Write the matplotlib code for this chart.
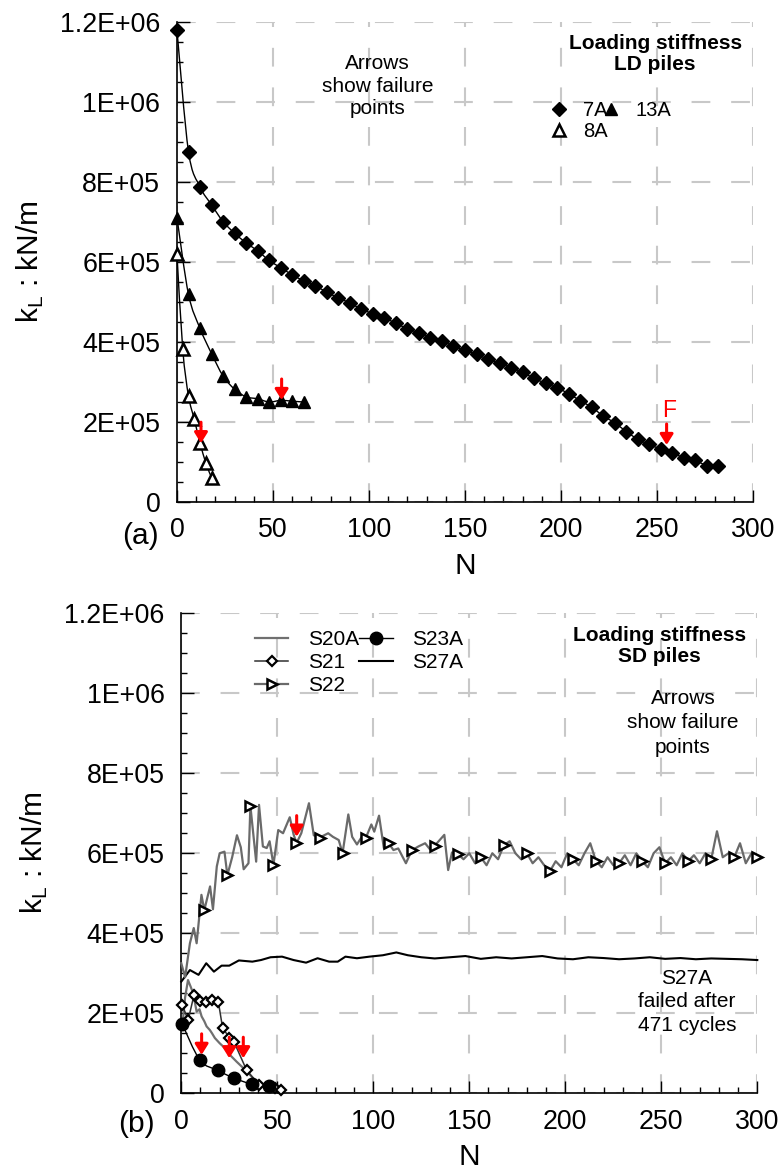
import numpy as np
import matplotlib
matplotlib.use("Agg")
import matplotlib.pyplot as plt
from matplotlib.path import Path
from matplotlib.patches import PathPatch
from matplotlib.lines import Line2D

plt.rcParams['font.family'] = ['Liberation Sans', 'DejaVu Sans']
plt.rcParams['mathtext.fontset'] = 'custom'
plt.rcParams['mathtext.rm'] = 'Liberation Sans'

SCALE = 1e6  # values below are in 1E+06 kN/m

# ---- panel (a): LD piles ----
N_7A = [0, 6, 12, 18, 24, 30, 36, 42, 48, 54, 60, 66, 72, 78, 84, 90, 96, 102,
        108, 114, 120, 126, 132, 138, 144, 150, 156, 162, 168, 174, 180, 186,
        192, 198, 204, 210, 216, 222, 228, 234, 240, 246, 252, 258, 264, 270,
        276, 282]
k_7A = [1.179, 0.876, 0.788, 0.743, 0.701, 0.672, 0.648, 0.628, 0.604, 0.586,
        0.568, 0.553, 0.540, 0.525, 0.510, 0.498, 0.482, 0.471, 0.460, 0.447,
        0.433, 0.423, 0.410, 0.402, 0.390, 0.379, 0.369, 0.357, 0.347, 0.336,
        0.324, 0.309, 0.297, 0.285, 0.271, 0.253, 0.237, 0.215, 0.198, 0.176,
        0.157, 0.144, 0.132, 0.122, 0.111, 0.104, 0.091, 0.090]

N_13A = [0, 6, 12, 18, 24, 30, 36, 42, 48, 54, 60, 66]
k_13A = [0.711, 0.519, 0.434, 0.371, 0.315, 0.282, 0.263, 0.258, 0.250, 0.254,
         0.252, 0.250]

N_8A = [0, 3, 6, 9, 12, 15, 18]
k_8A = [0.619, 0.382, 0.265, 0.207, 0.148, 0.098, 0.061]

# failure arrows (N, k at arrow tip)
arrows_a = [(12.5, 0.147), (54.5, 0.255), (255, 0.1425)]

# ---- panel (b): SD piles ----
N_S20A = [1, 2, 3.5, 5, 6.2, 8, 9.5, 10.6, 12, 13.2, 14.9, 16, 17.5, 20, 22.7,
          25.3, 28.8, 32.3, 35.8, 39.2, 42.7, 46.2]
k_S20A = [0.19, 0.24, 0.283, 0.265, 0.25, 0.204, 0.21, 0.192, 0.18, 0.167,
          0.158, 0.15, 0.138, 0.125, 0.113, 0.096, 0.079, 0.063, 0.046, 0.029,
          0.017, 0.008]

N_S21 = [0.5, 3.6, 6.6, 9.6, 12.7, 15.9, 19.3, 21.5, 25, 27.6, 34, 40.6, 48.8,
         51.9]
k_S21 = [0.221, 0.183, 0.245, 0.230, 0.229, 0.234, 0.229, 0.164, 0.139, 0.127,
         0.058, 0.020, 0.0125, 0.009]

N_S22 = [0, 2, 4.5, 6.5, 8, 10.5, 12, 15, 16.5, 18.5, 20, 22.5, 24, 26.5, 29,
         31, 32.5, 35, 36, 39, 40.5, 42.5, 44.5, 46, 48, 50.5, 53, 56.5, 58.5,
         60, 62.5, 66.5, 69, 72, 76.5, 79, 82, 84, 87, 89, 91.5, 94, 96, 99,
         100.5, 103, 105.5, 108, 110.5, 113, 117, 120, 123.5, 127, 129.5, 132,
         137, 139, 141, 144, 147, 150, 153, 156, 159, 162, 165, 168, 171, 174,
         177, 180, 183, 186, 189, 192, 195, 198, 201, 204, 207, 210, 213, 216,
         219, 222, 225, 228, 231, 234, 237, 240, 243, 246, 249, 252, 255, 258,
         261, 264, 267, 270, 273, 276, 279, 282, 285, 288, 291, 294, 297, 300]
k_S22 = [0.325, 0.29, 0.375, 0.413, 0.375, 0.496, 0.458, 0.517, 0.46, 0.567,
         0.60, 0.604, 0.545, 0.59, 0.645, 0.615, 0.56, 0.575, 0.718, 0.579,
         0.721, 0.617, 0.613, 0.63, 0.571, 0.658, 0.65, 0.69, 0.647, 0.625,
         0.65, 0.725, 0.645, 0.639, 0.65, 0.641, 0.633, 0.60, 0.697, 0.641,
         0.622, 0.641, 0.637, 0.672, 0.654, 0.694, 0.613, 0.625, 0.608, 0.612,
         0.575, 0.607, 0.617, 0.625, 0.61, 0.619, 0.646, 0.558, 0.602, 0.598,
         0.585, 0.60, 0.575, 0.59, 0.57, 0.60, 0.585, 0.62, 0.63, 0.60, 0.585,
         0.60, 0.575, 0.59, 0.57, 0.555, 0.58, 0.565, 0.60, 0.585, 0.57, 0.60,
         0.625, 0.58, 0.565, 0.59, 0.57, 0.575, 0.595, 0.57, 0.60, 0.58, 0.565,
         0.60, 0.615, 0.575, 0.59, 0.57, 0.60, 0.58, 0.595, 0.575, 0.60, 0.585,
         0.655, 0.59, 0.60, 0.59, 0.625, 0.575, 0.60, 0.59]
S22_marker_step = 12

N_S23A = [0.5, 9.7, 19, 27.6, 36.7, 45.7]
k_S23A = [0.173, 0.083, 0.057, 0.0375, 0.023, 0.018]

N_S27A = [0, 4.5, 9, 13, 17, 21, 25, 30, 37, 41.5, 46.5, 52.5, 58.5, 65, 71,
          77, 81.5, 85.5, 91.5, 98, 105, 112, 118, 125, 132, 140, 148, 156,
          164, 172, 180, 188, 196, 204, 212, 220, 228, 236, 244, 252, 260, 268,
          276, 284, 292, 300]
k_S27A = [0.279, 0.308, 0.296, 0.325, 0.304, 0.319, 0.319, 0.332, 0.329, 0.333,
          0.34, 0.3415, 0.333, 0.3265, 0.3375, 0.329, 0.329, 0.3415, 0.3375,
          0.3415, 0.345, 0.352, 0.345, 0.34, 0.337, 0.34, 0.343, 0.336, 0.34,
          0.337, 0.34, 0.343, 0.337, 0.335, 0.34, 0.338, 0.335, 0.337, 0.34,
          0.336, 0.338, 0.335, 0.337, 0.336, 0.335, 0.333]

arrows_b = [(10.6, 0.096), (25, 0.0875), (32.3, 0.0875), (60.1, 0.6415)]

yticks = [0, 2e5, 4e5, 6e5, 8e5, 1e6, 1.2e6]
ytick_labels = ['0', '2E+05', '4E+05', '6E+05', '8E+05', '1E+06', '1.2E+06']
xticks = [0, 50, 100, 150, 200, 250, 300]


def smooth_path(x, y):
    # Excel-like smoothed line (Catmull-Rom as cubic Beziers)
    x = np.asarray(x, float)
    y = np.asarray(y, float)
    n = len(x)
    verts = [(x[0], y[0])]
    codes = [Path.MOVETO]
    for i in range(n - 1):
        i0 = max(i - 1, 0)
        i3 = min(i + 2, n - 1)
        c1 = (x[i] + (x[i + 1] - x[i0]) / 6, y[i] + (y[i + 1] - y[i0]) / 6)
        c2 = (x[i + 1] - (x[i3] - x[i]) / 6, y[i + 1] - (y[i3] - y[i]) / 6)
        verts += [c1, c2, (x[i + 1], y[i + 1])]
        codes += [Path.CURVE4] * 3
    return Path(verts, codes)


def add_smooth(ax, x, y, color='k', lw=1.0):
    p = smooth_path(x, np.asarray(y) * SCALE)
    ax.add_patch(PathPatch(p, fill=False, ec=color, lw=lw, zorder=3,
                           clip_on=False))


def style_axes(ax):
    ax.set_xlim(0, 300)
    ax.set_ylim(0, 1.2e6)
    ax.set_xticks(xticks)
    ax.set_xticklabels([str(t) for t in xticks])
    ax.set_yticks(yticks)
    ax.set_yticklabels(ytick_labels)
    ax.set_xticks(np.arange(0, 301, 10), minor=True)
    ax.set_yticks(np.arange(0, 1.2e6 + 1, 5e4), minor=True)
    ax.tick_params(which='major', direction='in', length=9, width=1.0,
                   labelsize=19.3, top=False, right=False)
    ax.tick_params(axis='y', which='major', pad=12)
    ax.tick_params(axis='x', which='major', pad=11)
    ax.tick_params(which='minor', direction='in', length=4, width=1.0,
                   top=False, right=False)
    for s in ['top', 'right']:
        ax.spines[s].set_visible(False)
    for s in ['left', 'bottom']:
        ax.spines[s].set_linewidth(1.2)
    ax.grid(True, which='major', color='#c8c8c8', lw=1.5,
            linestyle=(0, (9, 10)))
    ax.set_axisbelow(True)
    ax.set_ylabel(r'k$_\mathregular{L}$ : kN/m', fontsize=21.5, labelpad=10)
    ax.set_xlabel('N', fontsize=21.5, labelpad=6)


def red_arrow(ax, n, k):
    ax.annotate('', xy=(n, k * SCALE), xytext=(0, 21),
                textcoords='offset pixels',
                arrowprops=dict(arrowstyle='-|>,head_length=0.45,head_width=0.28',
                                color='#ff0000', lw=2.2, mutation_scale=14,
                                shrinkA=0, shrinkB=0),
                zorder=6, annotation_clip=False)


fig = plt.figure(figsize=(7.8, 11.71), dpi=100)
ax1 = fig.add_axes([0.2269, 0.5713, 0.7385, 0.4099])
ax2 = fig.add_axes([0.2324, 0.0664, 0.7385, 0.4099])

# ---------- (a) ----------
style_axes(ax1)
add_smooth(ax1, N_7A, k_7A)
add_smooth(ax1, N_13A, k_13A)
add_smooth(ax1, N_8A, k_8A)
h7, = ax1.plot(N_7A, np.array(k_7A) * SCALE, ls='none', marker='D', ms=7,
               mfc='k', mec='k', zorder=4, clip_on=False, label='7A')
h13, = ax1.plot(N_13A, np.array(k_13A) * SCALE, ls='none', marker='^', ms=9,
                mfc='k', mec='k', zorder=4, clip_on=False, label='13A')
h8, = ax1.plot(N_8A, np.array(k_8A) * SCALE, ls='none', marker='^', ms=8,
               mfc='white', mec='k', mew=1.8, zorder=4, clip_on=False,
               label='8A')
for n, k in arrows_a:
    red_arrow(ax1, n, k)
ax1.text(256.5, 0.23 * SCALE, 'F', color='#ff0000', fontsize=16.5,
         ha='center', va='center')
ax1.text(104.5, 1.04 * SCALE, 'Arrows\nshow failure\npoints', fontsize=15,
         ha='center', va='center', linespacing=1.22)
ax1.text(249, 1.12 * SCALE, 'Loading stiffness\nLD piles', fontsize=15,
         fontweight='bold', ha='center', va='center', linespacing=1.1)
ax1.legend(handles=[h7, h8, h13], ncol=2, frameon=False, fontsize=14.5,
           loc='upper left', bbox_to_anchor=(0.645, 0.835), borderpad=0,
           borderaxespad=0, handlelength=1.0, handletextpad=0.7,
           columnspacing=-0.3, labelspacing=0.1, numpoints=1)

# ---------- (b) ----------
style_axes(ax2)
hS20A, = ax2.plot(N_S20A, np.array(k_S20A) * SCALE, color='#707070', lw=1.6,
                  zorder=3, clip_on=False, label='S20A')
hS21, = ax2.plot(N_S21, np.array(k_S21) * SCALE, color='#303030', lw=1.1,
                 marker='D', ms=5.5, mfc='white', mec='k', mew=1.6, zorder=4,
                 clip_on=False, label='S21')
mark_idx = [i for i, n in enumerate(N_S22) if n > 0 and n % S22_marker_step == 0]
hS22, = ax2.plot(N_S22, np.array(k_S22) * SCALE, color='#6a6a6a', lw=1.6,
                 marker='>', ms=7.5, mfc='white', mec='k', mew=1.8,
                 markevery=mark_idx, zorder=4, clip_on=False, label='S22')
add_smooth(ax2, N_S23A, k_S23A)
ax2.plot(N_S23A, np.array(k_S23A) * SCALE, ls='none', marker='o', ms=9,
         mfc='k', mec='k', zorder=4, clip_on=False)
hS23A = Line2D([], [], color='k', lw=1.0, marker='o', ms=9, mfc='k', mec='k',
               label='S23A')
hS27A, = ax2.plot(N_S27A, np.array(k_S27A) * SCALE, color='k', lw=1.5,
                  zorder=3, clip_on=False, label='S27A')
for n, k in arrows_b:
    red_arrow(ax2, n, k)
ax2.text(249, 1.118 * SCALE, 'Loading stiffness\nSD piles', fontsize=15,
         fontweight='bold', ha='center', va='center', linespacing=1.1)
ax2.text(261.3, 0.926 * SCALE, 'Arrows\nshow failure\npoints', fontsize=15,
         ha='center', va='center', linespacing=1.36)
ax2.text(263.4, 0.229 * SCALE, 'S27A\nfailed after\n471 cycles', fontsize=15,
         ha='center', va='center', linespacing=1.3)
ax2.legend(handles=[hS20A, hS21, hS22, hS23A, hS27A], ncol=2, frameon=False,
           fontsize=15, loc='upper left', bbox_to_anchor=(0.128, 0.965),
           borderpad=0, borderaxespad=0, handlelength=1.6, handletextpad=0.95,
           columnspacing=0.0, labelspacing=0.2, numpoints=1)

fig.text(140 / 780, 1 - 536 / 1171, '(a)', fontsize=21.5, ha='center',
         va='center')
fig.text(136 / 780, 1 - 1124 / 1171, '(b)', fontsize=21.5, ha='center',
         va='center')

fig.savefig('out.png', dpi=100)
